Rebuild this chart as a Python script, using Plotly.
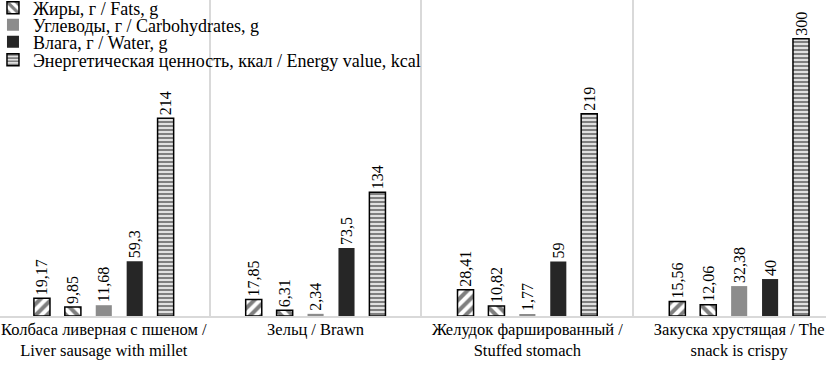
import plotly.graph_objects as go

categories = [
    "Колбаса ливерная с пшеном /<br>Liver sausage with millet",
    "Зельц / Brawn",
    "Желудок фаршированный /<br>Stuffed stomach",
    "Закуска хрустящая / The<br>snack is crispy",
]
series_names = [
    "Белки, г / Proteins, g",
    "Жиры, г / Fats, g",
    "Углеводы, г / Carbohydrates, g",
    "Влага, г / Water, g",
    "Энергетическая ценность, ккал / Energy value, kcal",
]
proteins = [19.17, 17.85, 28.41, 15.56]
fats = [9.85, 6.31, 10.82, 12.06]
carbs = [11.68, 2.34, 1.77, 32.38]
water = [59.3, 73.5, 59, 40]
energy = [214, 134, 219, 300]

values = [proteins, fats, carbs, water, energy]

FONT = "Times New Roman"

styles = [
    dict(color="white", line=dict(color="black", width=1.5),
         pattern=dict(shape="/", fgcolor="black", bgcolor="white", size=8, solidity=0.5)),
    dict(color="white", line=dict(color="black", width=1.5),
         pattern=dict(shape="\\", fgcolor="black", bgcolor="white", size=8, solidity=0.5)),
    dict(color="#8c8c8c", line=dict(width=0)),
    dict(color="#262626", line=dict(width=0)),
    dict(color="white", line=dict(color="black", width=1.5),
         pattern=dict(shape="-", fgcolor="black", bgcolor="white", size=4, solidity=0.62)),
]

PLOT_H = 316
legend_rows = [None, 8, 25, 42, 60]
legend_ids = [None, "legend", "legend2", "legend3", "legend4"]


def fmt(v):
    return f"{v:g}".replace(".", ",")


fig = go.Figure()
for i, (name, vals) in enumerate(zip(series_names, values)):
    kw = {}
    if legend_ids[i]:
        kw["legend"] = legend_ids[i]
    fig.add_trace(go.Bar(
        x=categories, y=vals, name=name,
        marker=styles[i],
        text=[fmt(v) for v in vals],
        textposition="outside", textangle=-90,
        constraintext="none",
        textfont=dict(family=FONT, size=16, color="black"),
        cliponaxis=False,
        showlegend=(i != 0),
        **kw,
    ))

legend_layout = {}
for i in range(1, 5):
    legend_layout[legend_ids[i]] = dict(
        x=-0.0085, y=1 - legend_rows[i] / PLOT_H, xanchor="left", yanchor="middle",
        font=dict(family=FONT, size=18, color="black"),
        bgcolor="rgba(0,0,0,0)", borderwidth=0,
    )

fig.update_layout(
    width=826, height=365,
    margin=dict(l=0, r=0, t=0, b=49, autoexpand=False),
    paper_bgcolor="white", plot_bgcolor="white",
    barmode="group", bargap=0.27, bargroupgap=0.48,
    font=dict(family=FONT, size=16, color="black"),
    **legend_layout,
)
fig.update_xaxes(
    range=[-0.49, 3.41], tickson="boundaries", showgrid=True,
    gridcolor="#d9d9d9", gridwidth=1.5, ticks="", showline=True,
    linecolor="#d9d9d9", linewidth=1.5,
    tickangle=0, automargin=False,
    ticklabelstandoff=-3,
    tickfont=dict(family=FONT, size=16.5, color="black"),
)
fig.update_yaxes(range=[0, 342], visible=False, showgrid=False, automargin=False)

fig.write_html("out.html", config={"displayModeBar": False},
               post_script="document.body.style.margin='0';")
